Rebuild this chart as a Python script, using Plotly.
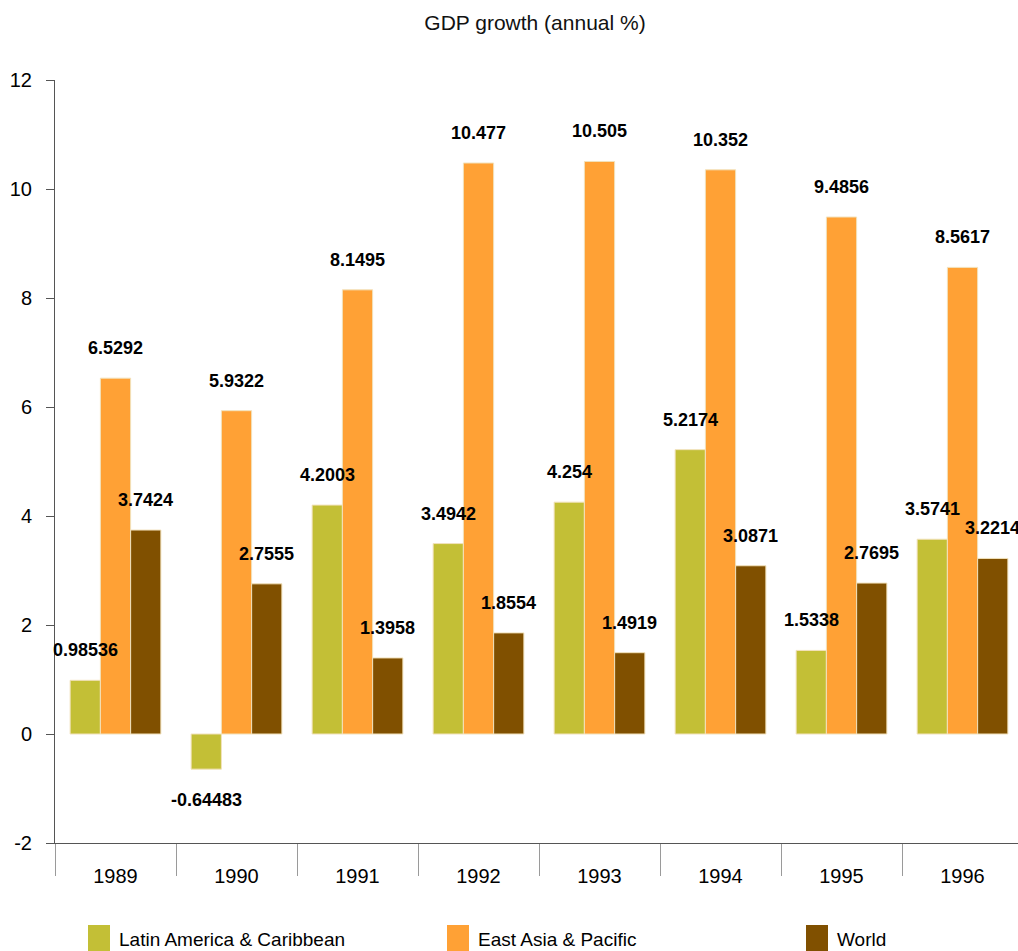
import plotly.graph_objects as go

# GDP growth (annual %) by region
years = ["1989", "1990", "1991", "1992", "1993", "1994", "1995", "1996"]
latin_america = [0.98536, -0.64483, 4.2003, 3.4942, 4.254, 5.2174, 1.5338, 3.5741]
east_asia = [6.5292, 5.9322, 8.1495, 10.477, 10.505, 10.352, 9.4856, 8.5617]
world = [3.7424, 2.7555, 1.3958, 1.8554, 1.4919, 3.0871, 2.7695, 3.2214]
y_ticks = [-2, 0, 2, 4, 6, 8, 10, 12]
y_tick_text = ["-2", "0", "2", "4", "6", "8", "10", "12"]

series_names = ["Latin America & Caribbean", "East Asia & Pacific", "World"]
series_values = [latin_america, east_asia, world]
series_colors = ["#C3BF36", "#FFA135", "#805000"]

FONT = "Liberation Sans, Arial, sans-serif"
W, H = 1018, 951
ML, MR, MT, MB = 55, 0, 80, 108
CAT_PX = 121.0
BARGAP = 0.25
plot_w = W - ML - MR
plot_h = H - MT - MB
bar_px = CAT_PX * (1 - BARGAP) / 3


def px_x(x):
    return (x - ML) / plot_w


def px_y(y):
    return (H - MB - y) / plot_h


fig = go.Figure()
for name, vals, col in zip(series_names, series_values, series_colors):
    fig.add_trace(go.Bar(
        x=years, y=vals, name=name,
        marker=dict(color=col, line=dict(color="#F2E2BC", width=1)),
        showlegend=False,
    ))

# value labels, centred on each bar and set off from its end
# (category positions are given by index so the numeric-looking names stay categories)
annotations = []
for i, vals in enumerate(series_values):
    offset = (i - 1) * bar_px
    for j, v in enumerate(vals):
        annotations.append(dict(
            x=j, y=v, xref="x", yref="y", text=f"{v:g}",
            showarrow=False, xanchor="center", yanchor="middle",
            xshift=offset, yshift=30 if v >= 0 else -31,
            font=dict(family=FONT, size=18, color="#000000", weight="bold"),
        ))

# legend row along the bottom edge
legend_x = [88, 447, 806]
for name, col, lx in zip(series_names, series_colors, legend_x):
    fig.add_shape(type="rect", xref="paper", yref="paper",
                  x0=px_x(lx), x1=px_x(lx + 22), y0=px_y(925), y1=px_y(960),
                  fillcolor=col, line=dict(width=0), layer="above")
    annotations.append(dict(
        x=px_x(lx + 29), y=px_y(939), xref="paper", yref="paper",
        text=name, showarrow=False, xanchor="left", yanchor="middle",
        font=dict(family=FONT, size=19, color="#000000"),
    ))

fig.update_layout(
    width=W, height=H,
    margin=dict(l=ML, r=MR, t=MT, b=MB),
    paper_bgcolor="white", plot_bgcolor="white",
    barmode="group", bargap=BARGAP, bargroupgap=0,
    font=dict(family=FONT, size=20, color="#000000"),
    title=dict(text="GDP growth (annual %)", x=535 / W, xref="container", xanchor="center",
               y=1 - 23 / H, yref="container", yanchor="middle",
               font=dict(family=FONT, size=21, color="#111111")),
    annotations=annotations,
    xaxis=dict(
        type="category", range=[-0.5, -0.5 + plot_w / CAT_PX],
        showline=True, linecolor="#555555", linewidth=1,
        ticks="outside", tickson="boundaries", ticklen=32, tickcolor="#9A9A9A", tickwidth=1,
        ticklabelstandoff=15, showgrid=False, zeroline=False,
        tickfont=dict(family=FONT, size=20, color="#000000"),
    ),
    yaxis=dict(
        range=[-2, 12], tickvals=y_ticks, ticktext=y_tick_text,
        showgrid=False, zeroline=False,
        showline=True, linecolor="#555555", linewidth=1,
        ticks="outside", ticklen=8, tickcolor="#555555", tickwidth=1,
        ticklabelstandoff=10,
        tickfont=dict(family=FONT, size=20, color="#000000"),
    ),
    yaxis2=dict(
        overlaying="y", side="left", range=[-2, 12], tickvals=y_ticks,
        showgrid=False, zeroline=False, showline=False, showticklabels=False,
        ticks="inside", ticklen=7, tickcolor="#555555", tickwidth=1,
    ),
)

fig.write_html("out.html")
